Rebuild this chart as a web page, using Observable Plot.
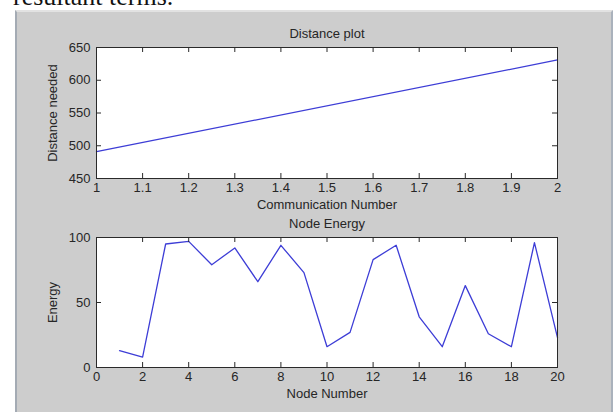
<!DOCTYPE html>
<html>
<head>
<meta charset="utf-8">
<script src="https://cdn.jsdelivr.net/npm/d3@7"></script>
<script src="https://cdn.jsdelivr.net/npm/@observablehq/plot@0.6"></script>
<style>
  body { margin: 0; background: #ffffff; width: 616px; height: 412px; overflow: hidden; position: relative; }
  #doc { position: absolute; left: 13px; top: -16px; font: 26px/26px "Liberation Serif", "Times New Roman", serif; color: #111; white-space: nowrap; }
  #panel { position: absolute; left: 15px; top: 10px; width: 598px; height: 402px; background: #cdcdcd;
           border-left: 2px solid #a4abb4; border-right: 2px solid #aab2bc; border-top: 2px solid #e2e2e2; box-sizing: border-box; }
  #top, #bottom { position: absolute; left: 0; }
  #top { top: 0; }
  #bottom { top: 212px; }
</style>
</head>
<body>
<div id="doc">resultant terms.</div>
<div id="panel"></div>
<div id="top"></div>
<div id="bottom"></div>
<script>
// ---- Data ----
const commNumber = [1, 2];
const distanceNeeded = [491, 631];
const distXTicks = [1, 1.1, 1.2, 1.3, 1.4, 1.5, 1.6, 1.7, 1.8, 1.9, 2];
const distYTicks = [450, 500, 550, 600, 650];

const nodeNumber = [1, 2, 3, 4, 5, 6, 7, 8, 9, 10, 11, 12, 13, 14, 15, 16, 17, 18, 19, 20];
const nodeEnergy = [13, 8, 95, 97, 79, 92, 66, 94, 73, 16, 27, 83, 94, 39, 16, 63, 26, 16, 96, 23];
const nodeXTicks = [0, 2, 4, 6, 8, 10, 12, 14, 16, 18, 20];
const energyYTicks = [0, 50, 100];

const distanceData = commNumber.map((c, i) => ({x: c, y: distanceNeeded[i]}));
const energyData = nodeNumber.map((n, i) => ({x: n, y: nodeEnergy[i]}));

function panel({data, xDomain, yDomain, xTicks, yTicks, title, xLabel, yLabel, height, marginTop, marginBottom}) {
  const W = 616, mL = 96, mR = 59, tick = 5;
  const ph = height - marginTop - marginBottom;
  const pw = W - mL - mR;
  const ink = "#2a2a2a";
  return Plot.plot({
    width: W, height, marginLeft: mL, marginRight: mR, marginTop, marginBottom,
    style: "font: 13px 'Liberation Sans', Arial, sans-serif; background: transparent; overflow: visible; color: #262626;",
    x: {domain: xDomain},
    y: {domain: yDomain},
    marks: [
      Plot.frame({fill: "white"}),
      Plot.line(data, {x: "x", y: "y", stroke: "#3d3dd6", strokeWidth: 1.3}),
      Plot.ruleX(xTicks, {x: d => d, insetTop: ph - tick, stroke: ink}),
      Plot.ruleX(xTicks, {x: d => d, insetBottom: ph - tick, stroke: ink}),
      Plot.ruleY(yTicks, {y: d => d, insetRight: pw - tick, stroke: ink}),
      Plot.ruleY(yTicks, {y: d => d, insetLeft: pw - tick, stroke: ink}),
      Plot.frame({stroke: ink}),
      Plot.axisX(xTicks, {tickSize: 0, tickPadding: 4, tickFormat: d => String(d), label: null}),
      Plot.axisY(yTicks, {tickSize: 0, tickPadding: 6, tickFormat: d => String(d), label: null}),
      Plot.text([title], {text: d => d, frameAnchor: "top", dy: -14, lineAnchor: "middle", textAnchor: "middle"}),
      Plot.text([xLabel], {text: d => d, frameAnchor: "bottom", dy: 26, lineAnchor: "middle", textAnchor: "middle"}),
      Plot.text([yLabel], {text: d => d, frameAnchor: "left", dx: -44, rotate: -90, lineAnchor: "middle", textAnchor: "middle"})
    ]
  });
}

document.getElementById("top").append(panel({
  data: distanceData, xDomain: [1, 2], yDomain: [450, 650],
  xTicks: distXTicks, yTicks: distYTicks,
  title: "Distance plot", xLabel: "Communication Number", yLabel: "Distance needed",
  height: 212, marginTop: 47, marginBottom: 34
}));

document.getElementById("bottom").append(panel({
  data: energyData, xDomain: [0, 20], yDomain: [0, 100],
  xTicks: nodeXTicks, yTicks: energyYTicks,
  title: "Node Energy", xLabel: "Node Number", yLabel: "Energy",
  height: 200, marginTop: 25, marginBottom: 45
}));
</script>
</body>
</html>
